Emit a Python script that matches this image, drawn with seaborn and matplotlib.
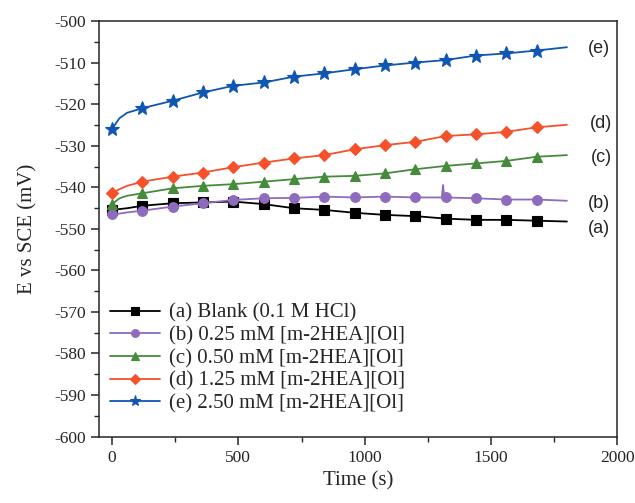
import matplotlib
matplotlib.use('Agg')
import matplotlib.pyplot as plt
from matplotlib.ticker import MultipleLocator
import pandas as pd
import seaborn as sns

# open circuit potential readings
time_s = [0, 30, 60, 120, 240, 360, 480, 600, 720, 840, 960, 1080, 1200, 1320, 1440, 1560, 1680, 1800]
marker_times = [0, 120, 240, 360, 480, 600, 720, 840, 960, 1080, 1200, 1320, 1440, 1560, 1680]

e_blank = [-545.4, -545.2, -545.0, -544.4, -543.8, -543.6, -543.4, -544.0, -545.0, -545.4, -546.1,
           -546.6, -546.9, -547.5, -547.8, -547.8, -548.0, -548.2]
e_025 = [-546.5, -546.3, -546.0, -545.6, -544.6, -543.8, -543.0, -542.6, -542.5, -542.2, -542.4,
         -542.2, -542.4, -542.4, -542.6, -542.9, -542.9, -543.2]
e_050 = [-544.0, -542.6, -542.0, -541.4, -540.2, -539.6, -539.2, -538.6, -538.0, -537.4, -537.2,
         -536.6, -535.6, -534.8, -534.2, -533.6, -532.6, -532.2]
e_125 = [-541.4, -540.4, -539.6, -538.6, -537.4, -536.4, -535.1, -534.0, -533.0, -532.2, -530.8,
         -529.8, -529.0, -527.6, -527.2, -526.6, -525.5, -524.9]
e_250 = [-525.9, -523.3, -522.0, -520.9, -519.1, -517.1, -515.5, -514.7, -513.3, -512.5, -511.5,
         -510.6, -509.9, -509.3, -508.2, -507.7, -507.0, -506.2]

# little spike in curve (b)
spike_t = [1305, 1310, 1315]
spike_e = [-542.4, -539.4, -542.4]

labels = ['(a) Blank (0.1 M HCl)', '(b) 0.25 mM [m-2HEA][Ol]', '(c) 0.50 mM [m-2HEA][Ol]',
          '(d) 1.25 mM [m-2HEA][Ol]', '(e) 2.50 mM [m-2HEA][Ol]']
short_labels = ['(a)', '(b)', '(c)', '(d)', '(e)']
colors = ['#000000', '#8f6bbd', '#468b3b', '#f5512b', '#0f56b3']
markers = ['s', 'o', '^', 'D', '*']
msizes = [6.5, 7, 7.5, 6.5, 10]
label_pos = [(1925, -549.8), (1925, -543.8), (1935, -532.7), (1935, -524.5), (1925, -506.5)]

sns.set_style('ticks')
plt.rcParams['font.family'] = ['Liberation Serif', 'DejaVu Serif']
plt.rcParams['axes.unicode_minus'] = False

fig = plt.figure(figsize=(6.35, 5.03), dpi=100)
ax = fig.add_axes([0.1564, 0.1322, 0.816, 0.8251])

series = [e_blank, e_025, e_050, e_125, e_250]
for i, ys in enumerate(series):
    t = list(time_s)
    y = list(ys)
    if i == 1:
        # insert the spike between 1200 and 1320
        k = t.index(1320)
        t = t[:k] + spike_t + t[k:]
        y = y[:k] + spike_e + y[k:]
    df = pd.DataFrame({'t': t, 'E': y})
    mk = [j for j, tt in enumerate(t) if tt in marker_times]
    sns.lineplot(data=df, x='t', y='E', ax=ax, color=colors[i], marker=markers[i],
                 markersize=msizes[i], markeredgewidth=0.8, markeredgecolor=colors[i],
                 linewidth=1.3, markevery=mk, label=labels[i], estimator=None, sort=False)

for i, (tx, ty) in enumerate(label_pos):
    ax.text(tx, ty, short_labels[i], ha='center', va='center', fontsize=13,
            family='Liberation Sans')

ax.set_xlim(-50, 2000)
ax.set_ylim(-600, -500)
ax.xaxis.set_major_locator(MultipleLocator(500))
ax.xaxis.set_minor_locator(MultipleLocator(250))
ax.yaxis.set_major_locator(MultipleLocator(10))
ax.yaxis.set_minor_locator(MultipleLocator(5))
ax.tick_params(which='major', length=6, width=1.1, labelsize=12.5, direction='out')
ax.tick_params(which='minor', length=3.5, width=1.0, direction='out')
for s in ax.spines.values():
    s.set_linewidth(1.1)

ax.set_xlabel('Time (s)', fontsize=15)
ax.set_ylabel('E vs SCE (mV)', fontsize=15, labelpad=12)

ax.legend(loc='lower left', bbox_to_anchor=(0.0, 0.03), frameon=False, fontsize=15,
          handlelength=2.4, handletextpad=0.45, labelspacing=0.15, borderaxespad=0.1,
          markerscale=0.8)

fig.savefig('out.png', dpi=100)
